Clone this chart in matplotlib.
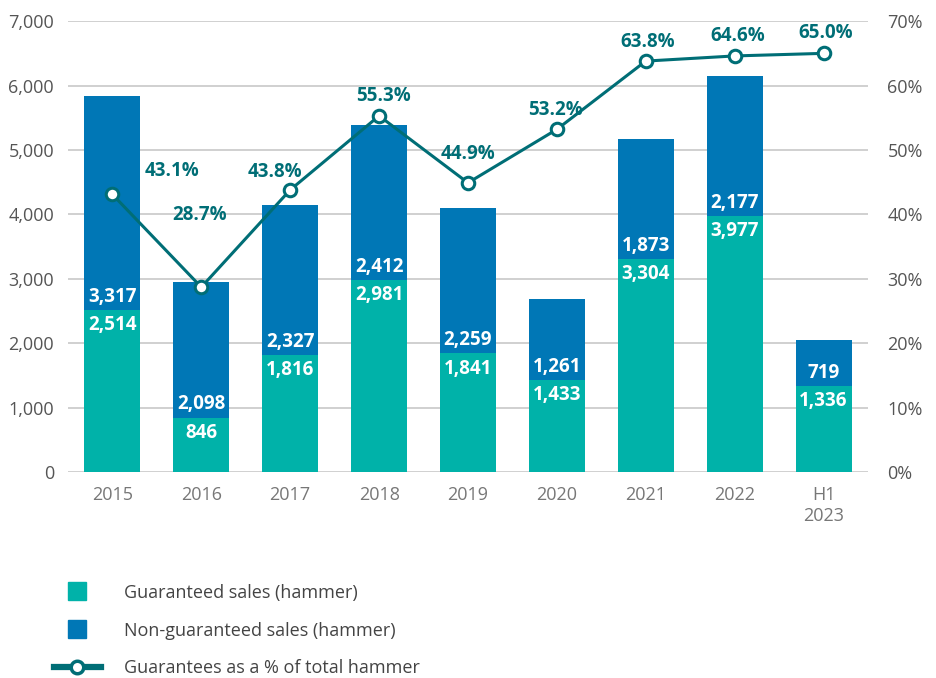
import matplotlib.pyplot as plt
from matplotlib.lines import Line2D
import numpy as np

plt.rcParams['font.family'] = ['Open Sans', 'DejaVu Sans']

years = ['2015', '2016', '2017', '2018', '2019', '2020', '2021', '2022', 'H1\n2023']
guaranteed = [2514, 846, 1816, 2981, 1841, 1433, 3304, 3977, 1336]
non_guaranteed = [3317, 2098, 2327, 2412, 2259, 1261, 1873, 2177, 719]
pct = [43.1, 28.7, 43.8, 55.3, 44.9, 53.2, 63.8, 64.6, 65.0]

# label offsets (x in category units, y in % units)
pct_dx = [0.67, -0.02, -0.17, 0.05, 0.0, -0.01, 0.02, 0.03, 0.03]
pct_dy = [3.7, 11.2, 2.8, 3.1, 4.5, 3.0, 3.0, 3.1, 3.1]

c_g = '#00b2a9'
c_n = '#0077b6'
c_line = '#006e76'
c_tick = '#555555'

fig = plt.figure(figsize=(9.36, 6.78), dpi=100)
ax = fig.add_axes([0.0726, 0.3038, 0.8547, 0.665])
ax2 = ax.twinx()

x = np.arange(len(years))
w = 0.63
ax.bar(x, guaranteed, width=w, color=c_g, zorder=2)
ax.bar(x, non_guaranteed, width=w, bottom=guaranteed, color=c_n, zorder=2)

for i in range(len(x)):
    ax.text(x[i], guaranteed[i] - 80, f'{guaranteed[i]:,}', ha='center', va='top',
            color='white', fontsize=13.5, fontweight='bold', zorder=3)
    ax.text(x[i], guaranteed[i] + 50, f'{non_guaranteed[i]:,}', ha='center', va='bottom',
            color='white', fontsize=13.5, fontweight='bold', zorder=3)

ax.set_ylim(0, 7000)
ax.set_yticks(np.arange(0, 7001, 1000))
ax.set_yticklabels([f'{v:,}' for v in range(0, 7001, 1000)])
ax.set_xlim(-0.5, len(years) - 0.5)
ax.set_xticks(x)
ax.set_xticklabels(years)
ax.grid(axis='y', color='#c8c8c8', lw=1.2, zorder=0)
ax.set_axisbelow(True)

ax2.plot(x, pct, color=c_line, lw=2.2, marker='o', ms=9, mfc='white', mec=c_line, mew=2.2, zorder=5)
for i in range(len(x)):
    ax2.text(x[i] + pct_dx[i], pct[i] + pct_dy[i], f'{pct[i]:.1f}%', ha='center', va='center',
             color=c_line, fontsize=13.5, fontweight='bold')
ax2.set_ylim(0, 70)
ax2.set_yticks(np.arange(0, 71, 10))
ax2.set_yticklabels([f'{v}%' for v in range(0, 71, 10)])

for a in (ax, ax2):
    for s in a.spines.values():
        s.set_visible(False)
    a.tick_params(length=0, labelsize=13, labelcolor=c_tick)
ax.tick_params(axis='y', pad=10)
ax.tick_params(axis='x', pad=10, labelcolor='#777777')
ax2.tick_params(axis='y', pad=14)

handles = [Line2D([], [], ls='', marker='s', ms=13, color=c_g),
           Line2D([], [], ls='', marker='s', ms=13, color=c_n),
           Line2D([], [], color=c_line, lw=4.5, marker='o', ms=9, mfc='white', mec=c_line, mew=2.5)]
labels = ['Guaranteed sales (hammer)', 'Non-guaranteed sales (hammer)',
          'Guarantees as a % of total hammer']
fig.legend(handles, labels, loc='upper left', bbox_to_anchor=(0.04, 0.163), frameon=False,
           fontsize=13, labelcolor='#444444', handlelength=2.6, handleheight=0.9,
           handletextpad=1.3, labelspacing=1.1)

plt.savefig('out.png', dpi=100)
